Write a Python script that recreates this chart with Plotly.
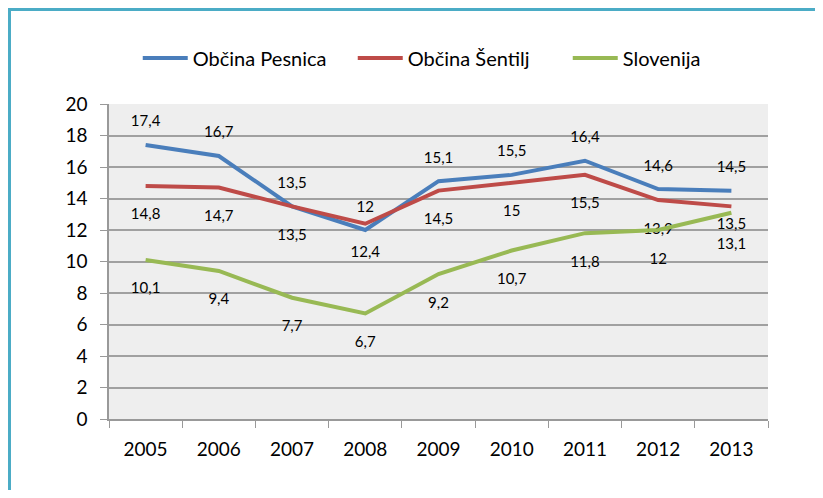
import plotly.graph_objs as go

years = ['2005', '2006', '2007', '2008', '2009', '2010', '2011', '2012', '2013']
pesnica = [17.4, 16.7, 13.5, 12, 15.1, 15.5, 16.4, 14.6, 14.5]
sentilj = [14.8, 14.7, 13.5, 12.4, 14.5, 15, 15.5, 13.9, 13.5]
slovenija = [10.1, 9.4, 7.7, 6.7, 9.2, 10.7, 11.8, 12, 13.1]
y_ticks = [0, 2, 4, 6, 8, 10, 12, 14, 16, 18, 20]


def labels(values):
	# Slovenian decimal comma
	return [('%g' % v).replace('.', ',') for v in values]


def series(name, values, color, pos, gap):
	# invisible markers only push the value labels away from the line
	return go.Scatter(
		x=years,
		y=values,
		name=name,
		mode='lines+markers+text',
		line=dict(color=color, width=4),
		marker=dict(size=gap, color='rgba(0,0,0,0)', line=dict(width=0)),
		text=labels(values),
		textposition=pos,
		textfont=dict(size=15, color='#000000'),
		cliponaxis=False
	)


# the two 2013 labels below the lines are pulled apart so they don't collide
sentilj_gap = [34] * 8 + [16]
slovenija_gap = [34] * 8 + [38]

plots = [
	series('Občina Pesnica', pesnica, '#4a7ebb', 'top center', 22),
	series('Občina Šentilj', sentilj, '#be4b48', 'bottom center', sentilj_gap),
	series('Slovenija', slovenija, '#98b954', 'bottom center', slovenija_gap),
]

graph_layout = go.Layout(
	width=807,
	height=482,
	margin=dict(l=101, r=47, t=96, b=71),
	paper_bgcolor='white',
	plot_bgcolor='#eeeeee',
	font=dict(family='Lato', color='#000000'),
	showlegend=True,
	legend=dict(
		orientation='h',
		x=0.533, xanchor='center',
		y=1.146, yanchor='middle',
		font=dict(size=20),
		itemwidth=45,
		entrywidth=155,
		bgcolor='rgba(0,0,0,0)'
	),
	xaxis=dict(
		type='category',
		range=[-0.5, 8.5],
		tickson='boundaries',
		ticks='outside',
		ticklen=7,
		tickcolor='#999999',
		showline=True,
		linecolor='#999999',
		linewidth=1.5,
		showgrid=False,
		tickfont=dict(size=19),
		ticklabelstandoff=12
	),
	yaxis=dict(
		range=[0, 20],
		tickvals=y_ticks,
		ticks='outside',
		ticklen=7,
		tickcolor='#999999',
		showline=True,
		linecolor='#999999',
		linewidth=1.5,
		gridcolor='#a0a0a0',
		gridwidth=1.5,
		zeroline=False,
		tickfont=dict(size=19),
		ticklabelstandoff=9
	),
	hovermode='closest',
	shapes=[
		dict(
			type='rect', xref='paper', yref='paper',
			x0=-0.151, x1=1.2, y0=-0.3, y1=1.300,
			line=dict(color='#4bacc6', width=3),
			layer='below'
		)
	]
)

figure = go.Figure(plots, graph_layout)
figure.write_html('out.html')
